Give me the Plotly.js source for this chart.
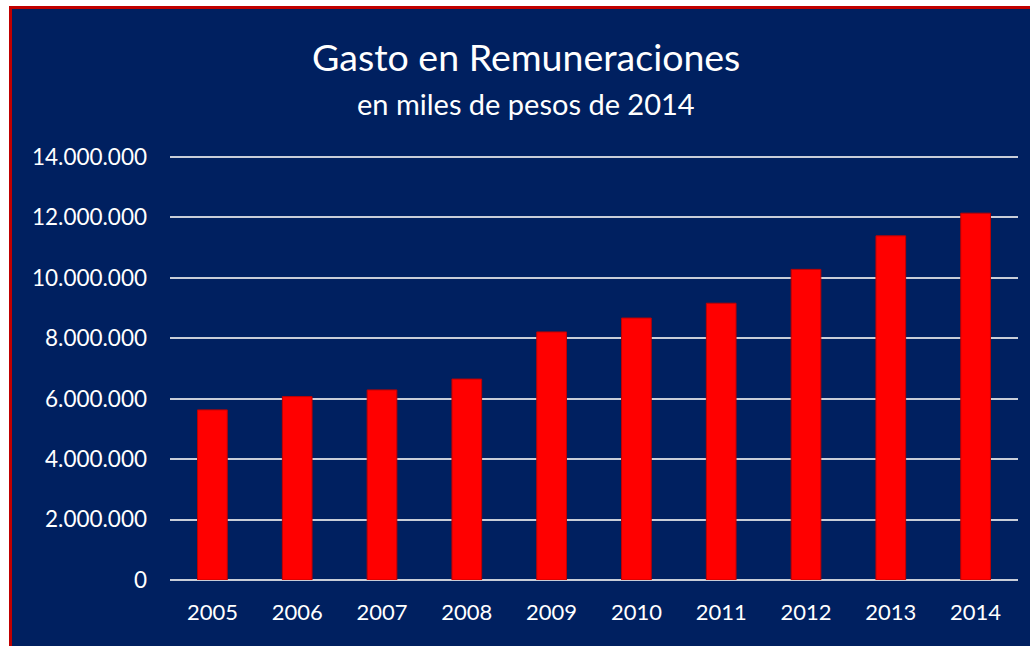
<!DOCTYPE html>
<html>
<head>
<meta charset="utf-8">
<script src="https://cdn.plot.ly/plotly-3.0.1.min.js"></script>
<style>
  html, body { margin: 0; padding: 0; background: #ffffff; width: 1030px; height: 646px; overflow: hidden; }
  #frame { position: absolute; left: 9px; top: 6px; width: 1021px; height: 640px;
           border-left: 3px solid #c00000; border-top: 3px solid #c00000; background: #002060; }
  #chart { width: 1021px; height: 637px; }
</style>
</head>
<body>
<div id="frame"><div id="chart"></div></div>
<script>
const years = ['2005','2006','2007','2008','2009','2010','2011','2012','2013','2014'];
const gasto = [5630000, 6070000, 6290000, 6650000, 8210000, 8670000, 9160000, 10280000, 11390000, 12140000];
const yTicks = [0, 2000000, 4000000, 6000000, 8000000, 10000000, 12000000, 14000000];
const titleText = 'Gasto en Remuneraciones';
const subtitleText = 'en miles de pesos de 2014';

const trace = {
  type: 'bar',
  x: years,
  y: gasto,
  marker: { color: '#ff0000', line: { color: '#c00000', width: 1 } },
  hoverinfo: 'x+y'
};

const layout = {
  width: 1021, height: 637,
  margin: { l: 158, r: 15, t: 146, b: 66 },
  paper_bgcolor: '#002060',
  plot_bgcolor: '#002060',
  separators: ',.',
  bargap: 0.65,
  showlegend: false,
  font: { family: 'Lato, "Open Sans", sans-serif', color: '#ffffff', size: 20 },
  xaxis: {
    type: 'category',
    showgrid: false,
    showline: false,
    ticks: '',
    tickfont: { size: 22, color: '#ffffff' },
    ticklabelstandoff: 17,
    fixedrange: true
  },
  yaxis: {
    range: [0, 14066000],
    tickvals: yTicks,
    tickformat: ',d',
    showgrid: true,
    gridcolor: '#c8cdd8',
    gridwidth: 2,
    zeroline: true,
    zerolinecolor: '#c8cdd8',
    zerolinewidth: 2,
    showline: false,
    ticks: '',
    tickfont: { size: 22.5, color: '#ffffff' },
    ticklabelstandoff: 22,
    fixedrange: true
  },
  annotations: [
    { text: titleText, xref: 'paper', yref: 'paper', x: 0.42, y: 1.232,
      xanchor: 'center', yanchor: 'middle', showarrow: false,
      font: { size: 37.5, color: '#ffffff', family: 'Lato, "Open Sans", sans-serif' } },
    { text: subtitleText, xref: 'paper', yref: 'paper', x: 0.42, y: 1.122,
      xanchor: 'center', yanchor: 'middle', showarrow: false,
      font: { size: 29, color: '#ffffff', family: 'Lato, "Open Sans", sans-serif' } }
  ]
};

Plotly.newPlot('chart', [trace], layout, { displayModeBar: false, staticPlot: true });
</script>
</body>
</html>
